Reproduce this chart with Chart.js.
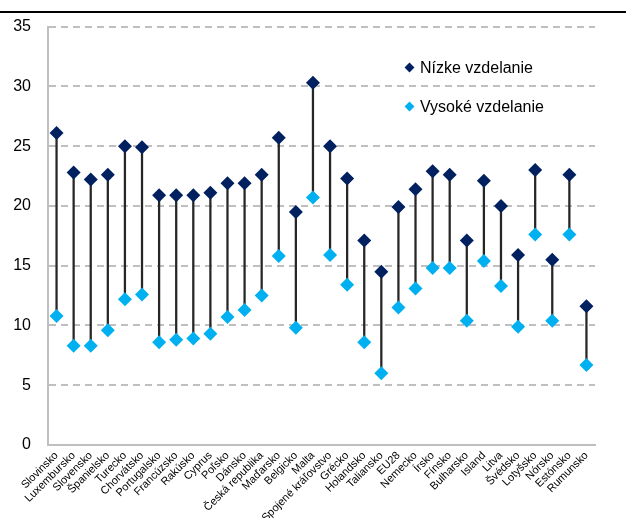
<!DOCTYPE html>
<html><head><meta charset="utf-8">
<script src="https://cdn.jsdelivr.net/npm/chart.js@4.4.1/dist/chart.umd.min.js"></script>
<style>
html,body{margin:0;padding:0;background:#fff;}
#wrap{position:relative;width:626px;height:518px;}
#topline{position:absolute;left:0;top:11px;width:626px;height:2px;background:#000;}
.leg{position:absolute;font-family:"Liberation Sans",Arial,sans-serif;font-size:16px;color:#000;line-height:18px;}
.dia{position:absolute;width:7px;height:7px;transform:rotate(45deg);}
</style></head><body>
<div id="wrap">
<canvas id="c" width="626" height="518"></canvas>
<div id="topline"></div>
<div class="dia" style="left:406px;top:64px;background:#002060"></div>
<div class="leg" style="left:420px;top:59px">Nízke vzdelanie</div>
<div class="dia" style="left:406px;top:103px;background:#00B0F0"></div>
<div class="leg" style="left:420px;top:98px">Vysoké vzdelanie</div>
</div>
<script>
const categories = ["Slovinsko","Luxembursko","Slovensko","Španielsko","Turecko","Chorvátsko","Portugalsko","Francúzsko","Rakúsko","Cyprus","Poľsko","Dánsko","Česká republika","Maďarsko","Belgicko","Malta","Spojené kráľovstvo","Grécko","Holandsko","Taliansko","EU28","Nemecko","Írsko","Fínsko","Bulharsko","Island","Litva","Švédsko","Lotyšsko","Nórsko","Estónsko","Rumunsko"];
const lowEdu  = [26.1,22.8,22.2,22.6,25.0,24.9,20.9,20.9,20.9,21.1,21.9,21.9,22.6,25.7,19.5,30.3,25.0,22.3,17.1,14.5,19.9,21.4,22.9,22.6,17.1,22.1,20.0,15.9,23.0,15.5,22.6,11.6];
const highEdu = [10.8,8.3,8.3,9.6,12.2,12.6,8.6,8.8,8.9,9.3,10.7,11.3,12.5,15.8,9.8,20.7,15.9,13.4,8.6,6.0,11.5,13.1,14.8,14.8,10.4,15.4,13.3,9.9,17.6,10.4,17.6,6.7];
const yTicks = [0,5,10,15,20,25,30,35];
const seriesNames = ["Nízke vzdelanie","Vysoké vzdelanie"];

const ranges = lowEdu.map((v,i)=>[highEdu[i], v]);

new Chart(document.getElementById('c'), {
  type: 'line',
  data: {
    labels: categories,
    datasets: [
      {type:'bar', label:'range', data: ranges, backgroundColor:'#262626', borderWidth:0, barThickness:1.6, order:3},
      {label: seriesNames[0], data: lowEdu, showLine:false, pointStyle:'rectRot', pointRadius:7, pointHoverRadius:7, backgroundColor:'#002060', borderColor:'#002060', borderWidth:0, order:1},
      {label: seriesNames[1], data: highEdu, showLine:false, pointStyle:'rectRot', pointRadius:7, pointHoverRadius:7, backgroundColor:'#00B0F0', borderColor:'#00B0F0', borderWidth:0, order:2}
    ]
  },
  options: {
    responsive:false, animation:false,
    layout:{padding:{top:25,right:31,left:0,bottom:0}},
    plugins:{legend:{display:false}, tooltip:{enabled:false}},
    scales:{
      x:{
        offset:true,
        grid:{display:false, drawTicks:false},
        border:{display:true, color:'#bfbfbf', width:2},
        ticks:{autoSkip:false, maxRotation:45, minRotation:45, padding:4, color:'#000', font:{family:'"Liberation Sans", Arial, sans-serif', size:11}},
        afterFit:(s)=>{s.height = 73;}
      },
      y:{
        min:0, max:35,
        afterBuildTicks:(s)=>{s.ticks = yTicks.map(v=>({value:v}));},
        grid:{color:'#bfbfbf', lineWidth:2, drawTicks:false},
        border:{display:true, color:'#bfbfbf', width:2, dash:[7,5]},
        ticks:{padding:17, color:'#000', font:{family:'"Liberation Sans", Arial, sans-serif', size:16}},
        afterFit:(s)=>{s.width = 48;}
      }
    }
  }
});
</script>
</body></html>
